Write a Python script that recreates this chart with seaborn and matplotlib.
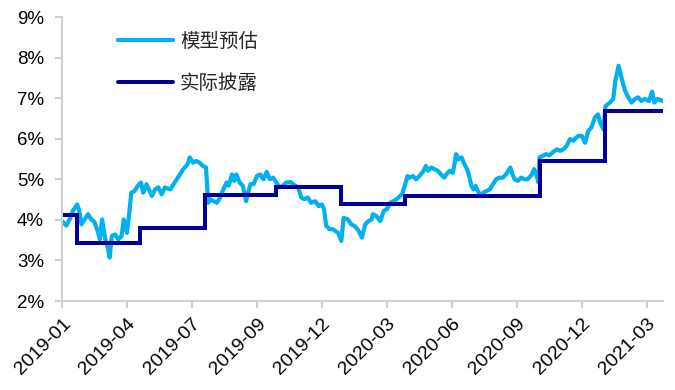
import numpy as np
import pandas as pd
import matplotlib
matplotlib.use("Agg")
import matplotlib.pyplot as plt
import seaborn as sns
from matplotlib.ticker import FuncFormatter

# ---- data (trading-day index on a category axis, values in %) ----
model_idx = [0, 4, 7, 10, 14, 16, 18, 21, 24, 27, 30, 33, 35, 37, 40, 42, 44, 46, 49, 52,
             55, 57, 60, 62, 64, 67, 70, 73, 75, 78, 83, 86, 89, 92, 95, 100, 103, 107, 112, 116,
             118, 121, 124, 127, 130, 133, 135, 137, 140, 143, 146, 149, 152, 154, 157, 159, 161, 164, 167, 170,
             174, 177, 180, 183, 186, 189, 192, 195, 198, 201, 204, 207, 211, 215, 218, 221, 224, 227, 230, 234,
             237, 240, 242, 244, 247, 250, 255, 258, 260, 264, 267, 270, 273, 277, 280, 283, 286, 287, 290, 294,
             297, 300, 303, 306, 309, 314, 317, 319, 321, 324, 327, 330, 334, 336, 338, 341, 344, 347, 350, 353,
             355, 358, 361, 364, 366, 369, 371, 374, 376, 378, 380, 382, 384, 387, 389, 392, 395, 398, 401, 404,
             407, 410, 414, 416, 418, 421, 424, 427, 430, 434, 436, 438, 440, 441, 444, 447, 450, 453, 457, 460,
             463, 466, 469, 472, 475, 477, 480, 483, 486, 489, 492, 495, 497, 500, 502, 506, 509, 511, 514, 517,
             520, 523, 526, 529, 532, 535, 538, 542, 545, 547, 550, 555]
model_val = [3.97, 3.86, 4.01, 4.22, 4.38, 4.22, 3.89, 4.01, 4.14, 4.01, 3.95, 3.72, 3.52, 4.01, 3.52, 3.36, 3.07, 3.60, 3.64, 3.52,
             3.60, 4.01, 3.68, 4.14, 4.67, 4.71, 4.84, 4.92, 4.67, 4.88, 4.59, 4.75, 4.80, 4.63, 4.80, 4.75, 4.88, 5.04, 5.25, 5.37,
             5.54, 5.41, 5.45, 5.41, 5.33, 5.29, 4.42, 4.51, 4.46, 4.42, 4.55, 4.75, 4.92, 4.84, 5.12, 4.96, 5.12, 4.92, 4.84, 4.46,
             4.88, 4.88, 5.08, 5.12, 5.00, 5.18, 5.00, 5.04, 4.92, 4.80, 4.84, 4.92, 4.93, 4.85, 4.80, 4.55, 4.51, 4.55, 4.42, 4.46,
             4.34, 4.38, 4.26, 3.85, 3.77, 3.77, 3.68, 3.48, 4.05, 4.01, 3.89, 3.85, 3.77, 3.56, 3.89, 3.97, 4.01, 4.14, 4.10, 3.97,
             4.22, 4.26, 4.42, 4.46, 4.51, 4.63, 4.88, 5.08, 5.04, 5.08, 5.00, 5.08, 5.21, 5.33, 5.21, 5.29, 5.25, 5.21, 5.12, 5.04,
             5.12, 5.21, 5.16, 5.62, 5.49, 5.54, 5.41, 5.25, 5.08, 4.84, 4.75, 4.84, 4.71, 4.59, 4.67, 4.71, 4.75, 4.88, 5.00, 5.04,
             5.04, 5.12, 5.29, 5.12, 5.00, 4.96, 5.04, 5.00, 5.00, 5.12, 5.25, 5.12, 4.92, 5.54, 5.58, 5.62, 5.59, 5.66, 5.74, 5.70,
             5.74, 5.82, 5.99, 5.95, 6.03, 6.07, 6.07, 5.90, 6.19, 6.28, 6.52, 6.60, 6.40, 6.23, 6.81, 6.89, 6.98, 7.43, 7.80, 7.47,
             7.18, 7.02, 6.89, 6.98, 7.02, 6.93, 6.98, 6.93, 7.16, 6.89, 6.98, 6.93]

actual_idx = [0, 14, 72, 132, 198, 258, 317, 441, 501, 555]
actual_val = [4.12, 3.42, 3.79, 4.62, 4.82, 4.39, 4.60, 5.46, 6.68, 6.68]

tick_pos = [0, 60, 120, 180, 240, 300, 360, 420, 480, 540]
tick_labels = ["2019-01", "2019-04", "2019-07", "2019-09", "2019-12",
               "2020-03", "2020-06", "2020-09", "2020-12", "2021-03"]

series_names = ["模型预估", "实际披露"]
colors = ["#00B0F0", "#000099"]

# ---- build table ----
df_model = pd.DataFrame({"x": model_idx, "y": model_val, "s": series_names[0]})
df_act = pd.DataFrame({"x": actual_idx, "y": actual_val, "s": series_names[1]})

sns.set_theme(style="white")
plt.rcParams["font.family"] = ["Liberation Sans", "Noto Sans CJK SC", "DejaVu Sans"]

fig = plt.figure(figsize=(6.75, 3.9), dpi=100)
ax = fig.add_axes([62 / 675, 1 - 301 / 390, 601 / 675, 284 / 390])

sns.lineplot(data=df_model, x="x", y="y", ax=ax, color=colors[0], lw=3.0,
             label=series_names[0], solid_joinstyle="round")
sns.lineplot(data=df_act, x="x", y="y", ax=ax, color=colors[1], lw=2.9,
             label=series_names[1], drawstyle="steps-post",
             solid_joinstyle="miter")

ax.set_xlim(0, 555)
ax.set_ylim(2, 9)
ax.set_yticks(range(2, 10))
ax.yaxis.set_major_formatter(FuncFormatter(lambda v, p: f"{int(round(v))}%"))
ax.set_xticks(tick_pos)
ax.set_xticklabels(tick_labels, rotation=45, ha="right", rotation_mode="anchor")
ax.set_xlabel("")
ax.set_ylabel("")

for s in ["top", "right"]:
    ax.spines[s].set_visible(False)
for s in ["left", "bottom"]:
    ax.spines[s].set_color("#D0D0D0")
    ax.spines[s].set_linewidth(1.5)

ax.tick_params(axis="both", which="major", direction="out", length=5, width=1.5,
               color="#D0D0D0", labelcolor="black")
ax.tick_params(axis="y", pad=8, labelsize=13.5)
ax.tick_params(axis="x", pad=5, labelsize=14)
ax.tick_params(left=True, bottom=True)

leg = ax.legend(loc="upper left", bbox_to_anchor=(0.093, 0.952), frameon=False,
                handlelength=2.85, handletextpad=0.35, labelspacing=1.1,
                borderpad=0, borderaxespad=0,
                prop={"family": ["Noto Sans CJK SC"], "size": 14})

fig.savefig("out.png", dpi=100)
